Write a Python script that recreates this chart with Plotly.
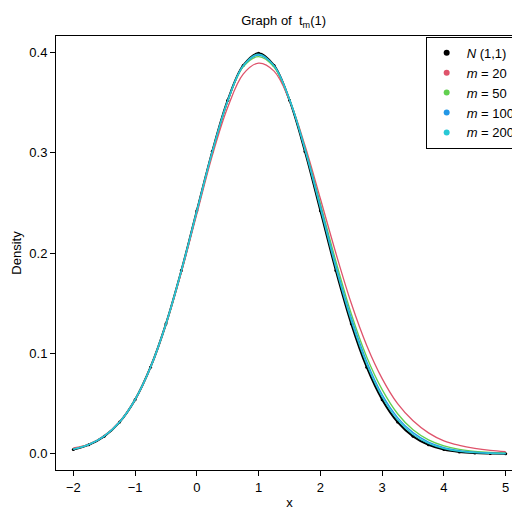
import plotly.graph_objects as go

x_vals = [-2 + 0.25 * i for i in range(29)]

dens_norm = [.0044, .0091, .0175, .0317, .054, .0863, .1295, .1826, .242, .3011, .3521, .3867, .3989,
             .3867, .3521, .3011, .242, .1826, .1295, .0863, .054, .0317, .0175, .0091, .0044, .002, .0009, .0004, .0001]
dens_m20 = [.006, .0095, .018, .032, .054, .086, .129, .181, .239, .297, .345, .378, .389, .381, .352, .307,
            .254, .200, .150, .108, .075, .050, .033, .021, .013, .0085, .0055, .0035, .0022]
dens_m50 = [.005, .0093, .0178, .0318, .0541, .0862, .1293, .1824, .2414, .3002, .3508, .3852, .3955, .3850, .3530, .3048,
            .2490, .1920, .1395, .0965, .0640, .0400, .0240, .0140, .0080, .0045, .0025, .0014, .0008]
dens_m100 = [.0047, .0092, .0177, .0318, .0541, .0863, .1294, .1825, .2416, .3006, .3514, .3860, .3970, .3862,
             .3530, .3040, .2470, .1880, .1355, .0920, .0590, .0362, .0212, .0118, .0063, .0033, .0017, .0009, .0004]
dens_m200 = [.0045, .0092, .0176, .0317, .0541, .0863, .1294, .1825, .2418, .3008, .3518, .3864, .3980, .3865,
             .3526, .3025, .2445, .1853, .1325, .0892, .0567, .0340, .0194, .0105, .0054, .0026, .0012, .0006, .0003]

series = [
    ("<i>N</i> (1,1)", dens_norm, "black"),
    ("<i>m</i> = 20", dens_m20, "#DF536B"),
    ("<i>m</i> = 50", dens_m50, "#61D04F"),
    ("<i>m</i> = 100", dens_m100, "#2297E6"),
    ("<i>m</i> = 200", dens_m200, "#28C8D5"),
]

fig = go.Figure()
for i, (name, y, col) in enumerate(series):
    fig.add_trace(go.Scatter(
        x=x_vals, y=y, mode="lines+markers" if i == 0 else "lines",
        line=dict(color=col, width=2 if i == 0 else 1.3, shape="spline"),
        marker=dict(size=3, color=col), showlegend=False,
    ))
for name, y, col in series:
    fig.add_trace(go.Scatter(
        x=[None], y=[None], mode="markers", name=name,
        marker=dict(size=6, color=col),
    ))

axis = dict(showgrid=False, zeroline=False, showline=True, linecolor="black", mirror=True,
            ticks="outside", ticklen=5, tickcolor="black", tickfont=dict(size=13, color="black"))
fig.update_xaxes(axis, range=[-2.28, 5.28], dtick=1, title=dict(text="x", font=dict(size=13), standoff=4))
fig.update_yaxes(axis, range=[-0.016, 0.416], dtick=0.1, tickformat=".1f",
                 title=dict(text="Density", font=dict(size=13), standoff=4))

fig.update_layout(
    width=520, height=517,
    margin=dict(l=48, r=5, t=28, b=55),
    plot_bgcolor="white", paper_bgcolor="white",
    font=dict(family="Liberation Sans, Arial", color="black"),
    title=dict(text="Graph of  t<sub>m</sub>(1)", x=0.53, y=0.985, font=dict(size=13)),
    legend=dict(x=0.995, y=0.998, xanchor="right", yanchor="top", bordercolor="black", borderwidth=1,
                bgcolor="white", font=dict(size=13), tracegroupgap=0, entrywidth=70),
)

fig.write_html("out.html")
